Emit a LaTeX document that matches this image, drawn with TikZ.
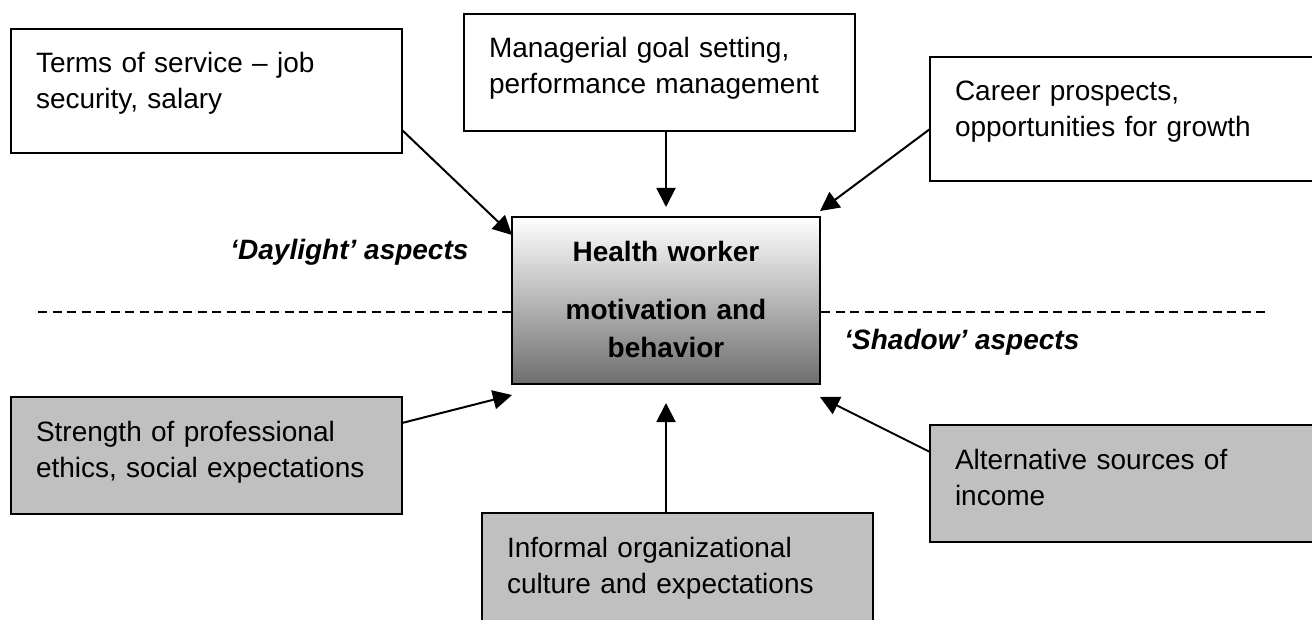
\documentclass[tikz,border=0pt]{standalone}
\usepackage{fontspec}
\setmainfont{Liberation Sans}
\usetikzlibrary{positioning,arrows.meta,calc}
\definecolor{boxgray}{RGB}{192,192,192}
\tikzstyle{wbox}=[rectangle, draw=black, fill=white, line width=1.1pt, anchor=north west,
                  inner xsep=12.5pt, inner ysep=0pt, outer sep=0pt, text height=22pt,
                  align=left, font=\fontsize{14}{18}\selectfont]
\tikzstyle{gbox}=[wbox, fill=boxgray]
\tikzstyle{hbox}=[rectangle, draw=black, line width=1.1pt, top color=white,
                  bottom color=black!57, anchor=north west, inner sep=0pt, outer sep=0pt,
                  text width=154pt, align=center, text height=22.5pt, text depth=61pt,
                  font=\fontsize{14}{19}\selectfont\bfseries]
\tikzstyle{lbl}=[anchor=base west, inner sep=0pt, font=\fontsize{14}{18}\selectfont\bfseries\itshape]
\tikzstyle{aline}=[-{Triangle[length=9.5pt,width=9.5pt]}, line width=1pt]
\tikzstyle{dline}=[dash pattern=on 4.5pt off 2.75pt, line width=0.9pt]

\begin{document}
\begin{tikzpicture}[x=0.5pt, y=-0.5pt]
\useasboundingbox (0,0) rectangle (1312,620);

\coordinate (DASHL) at (38,312);
\coordinate (DASHR) at (1266,312);
\draw[dline] (DASHL) -- (DASHR);

\node (TOS) [wbox, text width=170.5pt, text depth=40pt] at (11,29) {Terms of service – job\\security, salary};
\node (MGS) [wbox, text width=170.5pt, text depth=36.5pt] at (464,14) {Managerial goal setting,\\performance management};
\node (CAR) [wbox, text width=175pt, text depth=40pt] at (930,57) {Career prospects,\\opportunities for growth};

\node (STR) [gbox, text width=170.5pt, text depth=36.5pt] at (11,397) {Strength of professional\\ethics, social expectations};
\node (INF) [gbox, text width=170.5pt, text depth=41.5pt] at (482,513) {Informal organizational\\culture and expectations};
\node (ALT) [gbox, text width=175pt, text depth=36.5pt] at (930,425) {Alternative sources of\\income};

\node (HWM) [hbox] at (512,217) {Health worker\\[10pt]motivation and\\behavior};

\node (DAY) [lbl] at (230,260) {‘Daylight’ aspects};
\node (SHD) [lbl] at (844,350) {‘Shadow’ aspects};

\draw[aline] ([yshift=11.5pt]TOS.south east) -- ([yshift=-9pt]HWM.north west);
\draw[aline] (HWM.north |- MGS.south) -- ([yshift=5pt]HWM.north);
\draw[aline] ([yshift=-36pt]CAR.north west) -- ([yshift=3pt]HWM.north east);
\draw[aline] ([yshift=-13pt]STR.north east) -- ([yshift=-5.5pt]HWM.south west);
\draw[aline] (HWM.south |- INF.north) -- ([yshift=-9.5pt]HWM.south);
\draw[aline] ([yshift=-13.5pt]ALT.north west) -- ([yshift=-6.5pt]HWM.south east);

\end{tikzpicture}
\end{document}
